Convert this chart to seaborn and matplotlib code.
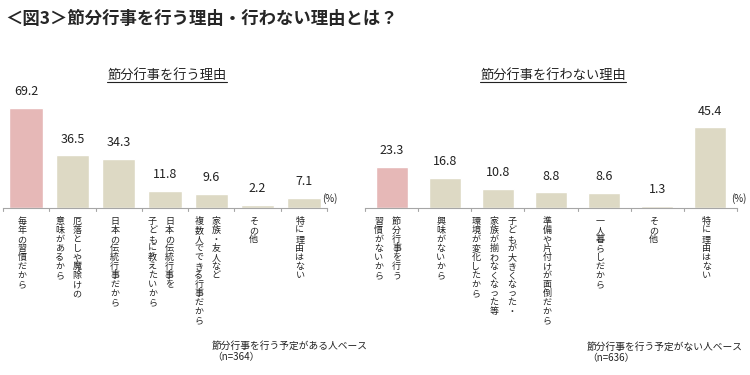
# import libraries
import seaborn as sns
import matplotlib.pyplot as plt
import matplotlib.transforms as mtrans
from matplotlib.lines import Line2D

sns.set_style("white")
plt.rcParams['font.family'] = ['Noto Sans CJK JP', 'DejaVu Sans']

# data - reasons to do setsubun (n=364)
do_labels = [
    ["毎年の習慣だから"],
    ["厄落としや魔除けの", "意味があるから"],
    ["日本の伝統行事だから"],
    ["日本の伝統行事を", "子どもに教えたいから"],
    ["家族・友人など", "複数人でできる行事だから"],
    ["その他"],
    ["特に理由はない"],
]
do_values = [69.2, 36.5, 34.3, 11.8, 9.6, 2.2, 7.1]

# data - reasons not to do setsubun (n=636)
dont_labels = [
    ["節分行事を行う", "習慣がないから"],
    ["興味がないから"],
    ["子どもが大きくなった・", "家族が揃わなくなった等", "環境が変化したから"],
    ["準備や片付けが面倒だから"],
    ["一人暮らしだから"],
    ["その他"],
    ["特に理由はない"],
]
dont_values = [23.3, 16.8, 10.8, 8.8, 8.6, 1.3, 45.4]

pink = "#E6B8B7"
beige = "#DDD9C4"

fig = plt.figure(figsize=(7.5, 3.75), dpi=100)
ax1 = fig.add_axes([3 / 750, 0.4453, 324 / 750, 0.301])
ax2 = fig.add_axes([365 / 750, 0.4453, 372 / 750, 0.301])


def draw_panel(ax, labels, values, width, ymax, col_gap, pct_x):
    n = len(values)
    keys = [str(i) for i in range(n)]
    colors = [pink] + [beige] * (n - 1)
    sns.barplot(x=keys, y=values, hue=keys, palette=colors, legend=False,
                width=width, saturation=1, ax=ax)
    ax.set_xlim(-0.5, n - 0.5)
    ax.set_ylim(0, ymax)
    ax.set_yticks([])
    ax.set_xticks([])
    ax.set_xlabel("")
    ax.set_ylabel("")
    for s in ["top", "left", "right"]:
        ax.spines[s].set_visible(False)
    ax.spines["bottom"].set_color("#A6A6A6")
    ax.spines["bottom"].set_linewidth(0.8)
    # boundary ticks
    tr = ax.get_xaxis_transform()
    for b in range(n + 1):
        ax.add_line(Line2D([b - 0.5, b - 0.5], [0, -0.03], transform=tr,
                           color="#A6A6A6", lw=0.8, clip_on=False))
    # value labels
    for i, v in enumerate(values):
        ax.annotate(f"{v:.1f}", (i, v), xytext=(0, 7), textcoords="offset points",
                    ha="center", va="bottom", fontsize=9, color="#222222")
    # vertical category labels, columns read right to left
    for i, cols in enumerate(labels):
        k = len(cols)
        for j, txt in enumerate(cols):
            dx = -4 + ((k - 1) / 2 - j) * col_gap
            t = mtrans.offset_copy(tr, fig=fig, x=dx, y=-9, units="dots")
            ax.text(i, 0, "\n".join(txt), transform=t, ha="center", va="top",
                    fontsize=6.5, linespacing=1.0, color="#222222")
    fig.text(pct_x / 750, 1 - 199 / 375, "(%)", ha="left", va="center",
             fontsize=7, color="#222222")


draw_panel(ax1, do_labels, do_values, 0.72, 78.2, 17, 322)
draw_panel(ax2, dont_labels, dont_values, 0.6, 63.5, 18, 731)

# titles
fig.text(5 / 750, 1 - 19 / 375, "＜図3＞節分行事を行う理由・行わない理由とは？",
         fontsize=12.5, fontweight="bold", ha="left", va="center")
sub1 = fig.text(167 / 750, 1 - 75 / 375, "節分行事を行う理由", fontsize=9.5,
                ha="center", va="center", color="#222222")
sub2 = fig.text(553 / 750, 1 - 75 / 375, "節分行事を行わない理由", fontsize=9.5,
                ha="center", va="center", color="#222222")

# footers
fig.text(212 / 750, 1 - 346 / 375, "節分行事を行う予定がある人ベース", fontsize=7,
         ha="left", va="center", color="#222222")
fig.text(212 / 750, 1 - 357 / 375, "（n=364）", fontsize=7,
         ha="left", va="center", color="#222222")
fig.text(587 / 750, 1 - 347 / 375, "節分行事を行う予定がない人ベース", fontsize=7,
         ha="left", va="center", color="#222222")
fig.text(587 / 750, 1 - 358 / 375, "（n=636）", fontsize=7,
         ha="left", va="center", color="#222222")

# underline the panel titles
fig.canvas.draw()
r = fig.canvas.get_renderer()
inv = fig.transFigure.inverted()
for s in [sub1, sub2]:
    bb = s.get_window_extent(renderer=r)
    (x0, y0), (x1, _) = inv.transform([(bb.x0, bb.y0), (bb.x1, bb.y1)])
    fig.add_artist(Line2D([x0, x1], [y0 - 0.002, y0 - 0.002], transform=fig.transFigure,
                          color="#222222", lw=0.8))

plt.savefig("out.png", dpi=100)
